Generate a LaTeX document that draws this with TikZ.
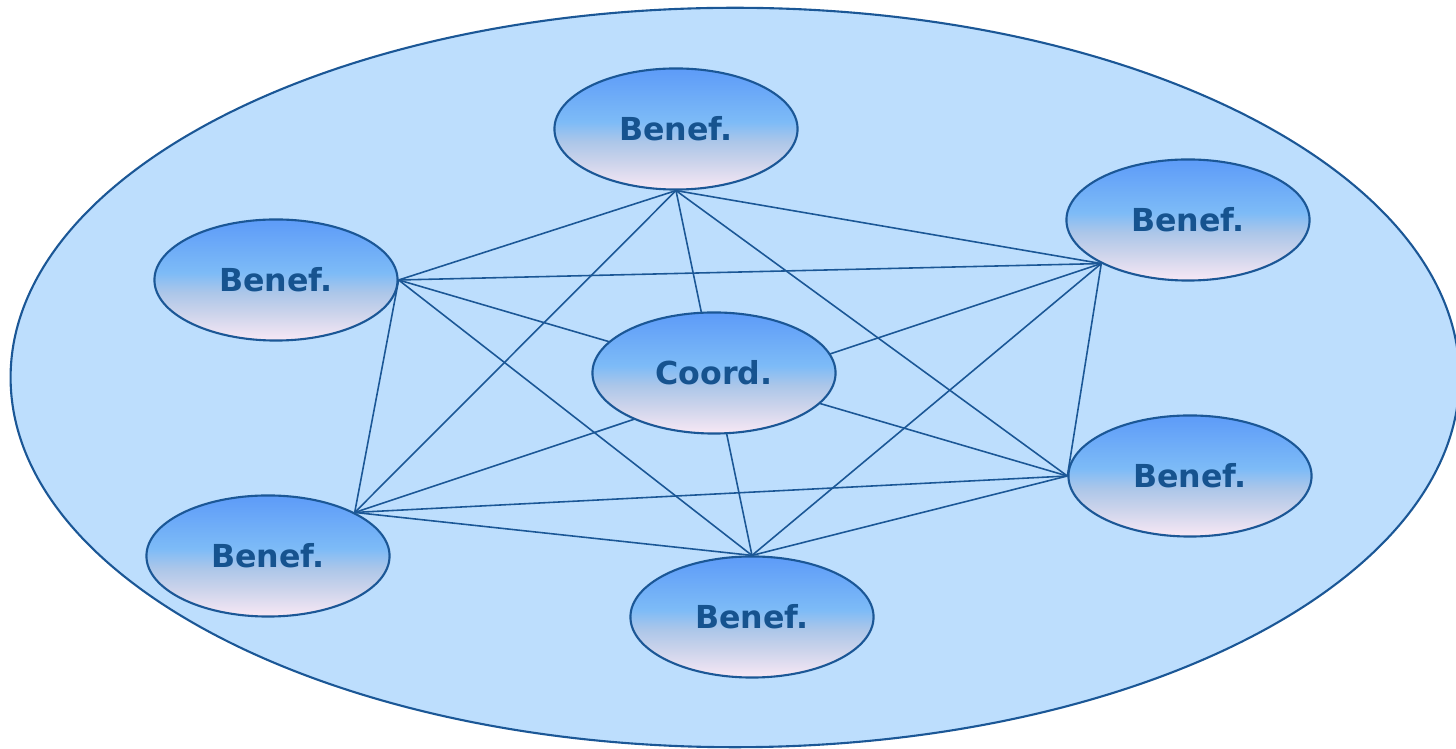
\documentclass[tikz,border=0pt]{standalone}
\usepackage{fontspec}
\setmainfont{DejaVu Sans}
\usepackage{xcolor}
\usepackage{tikz}
\usetikzlibrary{shapes.geometric,backgrounds}
\definecolor{linecol}{HTML}{1B5796}
\definecolor{textcol}{HTML}{16538F}
\definecolor{cloud}{HTML}{BDDEFD}
\definecolor{topblue}{HTML}{5D9BF8}
\definecolor{midblue}{HTML}{7DBBF7}
\definecolor{greyblue}{HTML}{ABC6E9}
\definecolor{greypink}{HTML}{CDD4EB}
\definecolor{botpink}{HTML}{F8E8F5}
\pgfdeclareverticalshading{benefshade}{100bp}{color(0bp)=(botpink); color(25bp)=(botpink); color(36bp)=(greypink); color(45bp)=(greyblue); color(53bp)=(midblue); color(75bp)=(topblue); color(100bp)=(topblue)}

\begin{document}
\begin{tikzpicture}[x=0.01cm, y=-0.01cm,
    party/.style={ellipse, draw=linecol, line width=0.6pt, shade, shading=benefshade, minimum width=2.43cm, minimum height=1.21cm, inner sep=0pt, text=textcol, font=\fontsize{9}{10}\selectfont\bfseries}, link/.style={draw=linecol, line width=0.45pt}
]
\useasboundingbox (0,0) rectangle (1456,749);
\begin{scope}[on background layer]
\fill[cloud, draw=linecol, line width=0.6pt] (735,377.5) ellipse [x radius=7.24cm, y radius=3.695cm];
\end{scope}
% beneficiaries and coordinator
\node[party] (b1) at (676,129) {Benef.};
\node[party] (b2) at (1188,220) {Benef.};
\node[party] (b3) at (1190,476) {Benef.};
\node[party] (b4) at (752,617) {Benef.};
\node[party] (b5) at (268,556) {Benef.};
\node[party] (b6) at (276,280) {Benef.};
\node[party] (coord) at (714,373) {Coord.};
\coordinate (p1) at (b1.south);\coordinate (p2) at (b2.south west);\coordinate (p3) at (b3.west);
\coordinate (p4) at (b4.north);\coordinate (p5) at (b5.north east);\coordinate (p6) at (b6.east);
\begin{scope}[on background layer]
\foreach \a in {1,...,5} {\pgfmathtruncatemacro\first{\a+1}\foreach \b in {\first,...,6} {\draw[link] (p\a) -- (p\b);}}
\end{scope}
\end{tikzpicture}
\end{document}
